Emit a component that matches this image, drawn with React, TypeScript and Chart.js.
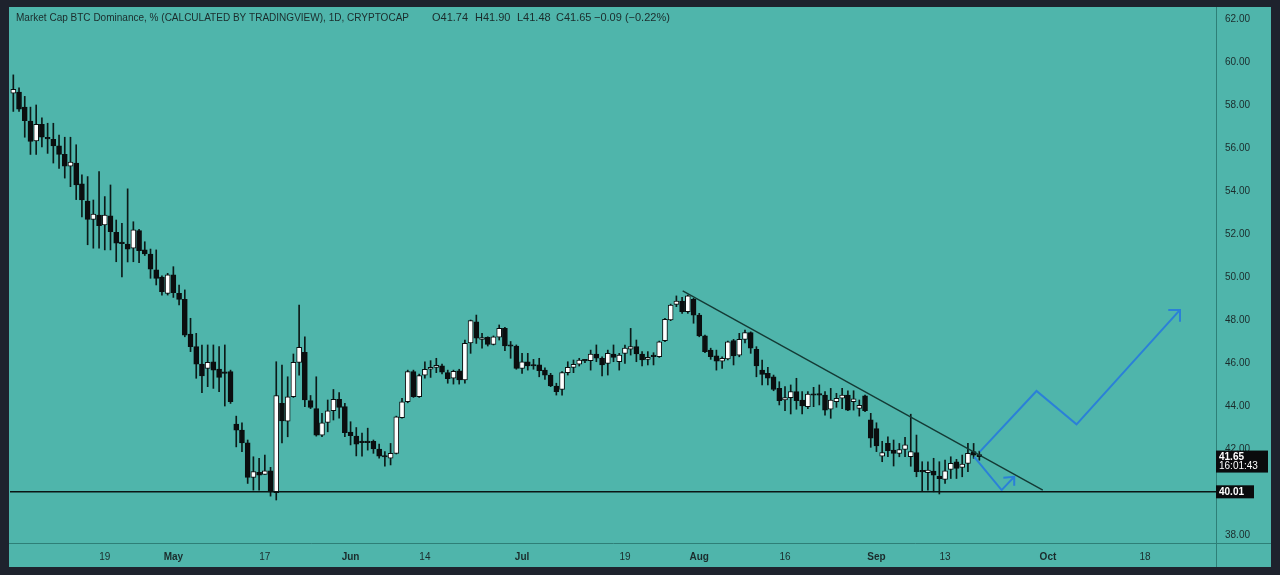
import React, { useEffect, useRef } from "react";
import { Chart, registerables } from "chart.js";

Chart.register(...registerables);

// Daily candles, CRYPTOCAP:BTC.D, 3 Apr – 19 Sep (index 0 = 3 Apr)
const opens = [
  58.55, 58.6, 57.9, 57.25, 56.33, 57.1, 56.5, 56.4, 56.1, 55.7,
  55.16, 55.3, 54.33, 53.53, 52.68, 52.88, 52.42, 52.84, 52.08, 51.6,
  51.53, 51.34, 52.16, 51.26, 51.07, 50.33, 50.0, 49.24, 50.1, 49.24,
  48.96, 47.35, 46.76, 45.95, 45.75, 46.06, 45.72, 45.57, 45.6, 43.16,
  42.88, 42.29, 40.68, 40.92, 40.82, 40.99, 39.97, 44.12, 43.3, 44.43,
  46.03, 46.5, 44.25, 43.88, 42.65, 43.24, 43.78, 44.31, 43.97, 42.79,
  42.6, 42.33, 42.33, 42.36, 42.0, 41.66, 41.57, 41.8, 43.46, 44.2,
  45.6, 44.43, 45.44, 45.71, 45.8, 45.87, 45.55, 45.29, 45.64, 45.21,
  46.94, 47.92, 47.1, 47.2, 46.87, 47.2, 47.61, 46.82, 46.79, 45.75,
  46.06, 45.88, 45.91, 45.67, 45.44, 44.93, 44.77, 45.55, 45.8, 45.95,
  46.12, 46.11, 46.42, 46.22, 45.98, 46.42, 46.06, 46.45, 46.64, 46.76,
  46.42, 46.17, 46.32, 46.29, 47.04, 48.0, 48.73, 48.88, 48.39, 48.96,
  48.23, 47.26, 46.6, 46.33, 46.09, 46.19, 47.04, 46.37, 47.1, 47.41,
  46.64, 45.67, 45.52, 45.36, 44.82, 44.28, 44.39, 44.67, 44.28, 43.97,
  44.52, 44.53, 44.51, 43.85, 44.2, 44.36, 44.51, 44.2, 43.89, 44.47,
  43.36, 42.95, 41.67, 42.26, 41.95, 41.8, 41.98, 41.64, 41.83, 40.96,
  40.9, 40.98, 40.74, 40.59, 41.05, 41.41, 41.15, 41.33, 41.88, 41.74,
];
const highs = [
  59.4, 58.8, 58.4, 57.9, 58.0, 57.4, 57.15, 57.15, 56.6, 56.5,
  56.5, 56.15, 54.75, 54.67, 53.58, 54.9, 53.74, 54.28, 52.65, 52.5,
  54.1, 52.57, 52.22, 51.64, 51.3, 51.26, 50.05, 50.17, 50.48, 49.63,
  49.4, 48.08, 47.38, 46.84, 46.84, 46.84, 46.76, 46.84, 45.67, 43.53,
  43.22, 42.42, 41.64, 41.57, 41.72, 41.15, 46.06, 45.9, 45.36, 46.42,
  48.7, 47.22, 44.49, 45.36, 43.66, 44.28, 44.77, 44.63, 44.12, 43.27,
  43.0, 42.74, 42.97, 42.42, 42.23, 41.88, 42.26, 43.53, 44.36, 45.67,
  45.67, 45.49, 46.06, 46.11, 46.22, 45.95, 45.67, 45.67, 45.71, 47.07,
  48.0, 48.23, 47.38, 47.22, 47.26, 47.77, 47.66, 47.0, 46.84, 46.45,
  46.45, 46.17, 46.22, 45.78, 45.52, 45.06, 45.6, 46.06, 46.14, 46.22,
  46.17, 46.6, 46.84, 46.29, 46.6, 46.84, 46.45, 46.84, 47.61, 47.07,
  46.53, 46.53, 46.48, 47.02, 48.08, 48.74, 49.12, 49.05, 49.16, 49.01,
  48.31, 47.3, 46.69, 46.6, 46.29, 47.02, 47.1, 47.38, 47.53, 47.45,
  46.76, 46.14, 45.8, 45.44, 45.13, 44.9, 44.98, 45.29, 44.67, 44.67,
  44.87, 44.98, 44.67, 44.82, 44.59, 44.82, 44.71, 44.71, 44.28, 44.51,
  43.66, 43.22, 42.36, 42.57, 42.42, 42.26, 42.54, 43.62, 42.65, 41.41,
  41.41, 41.57, 41.41, 41.49, 41.64, 41.52, 41.72, 42.26, 42.26, 41.9,
];
const lows = [
  57.7, 57.7, 56.5, 55.7, 55.7, 56.05, 55.75, 55.3, 55.05, 54.6,
  54.2, 53.6, 52.8, 51.5, 51.34, 51.34, 51.26, 51.26, 50.71, 50.0,
  50.7, 50.71, 50.67, 51.0, 49.94, 49.63, 49.16, 49.16, 49.05, 48.7,
  47.22, 46.53, 45.29, 44.62, 44.9, 44.82, 44.67, 44.0, 44.12, 42.1,
  41.88, 40.4, 40.09, 40.09, 40.82, 39.81, 39.63, 42.29, 42.57, 44.4,
  45.44, 43.97, 43.88, 42.6, 42.57, 42.8, 43.35, 43.43, 42.57, 42.19,
  41.68, 41.67, 41.95, 41.8, 41.57, 41.2, 41.26, 41.77, 43.43, 44.15,
  44.4, 44.4, 45.29, 45.33, 45.55, 45.49, 45.06, 45.02, 45.02, 45.06,
  46.45, 46.91, 46.69, 46.79, 46.84, 47.07, 46.57, 46.22, 45.71, 45.52,
  45.67, 45.71, 45.36, 45.24, 44.9, 44.51, 44.51, 45.44, 45.55, 45.86,
  46.02, 45.67, 46.06, 45.4, 45.44, 46.06, 45.67, 45.98, 46.37, 46.06,
  45.86, 45.91, 45.91, 46.26, 46.99, 47.97, 48.62, 48.31, 48.31, 47.85,
  47.22, 46.48, 46.17, 45.67, 45.75, 46.14, 45.91, 46.29, 46.94, 46.45,
  45.36, 44.98, 44.98, 44.71, 44.05, 43.78, 43.63, 43.85, 43.63, 43.88,
  43.97, 44.05, 43.58, 43.43, 43.94, 43.88, 43.78, 43.81, 43.53, 43.74,
  42.08, 41.88, 41.41, 41.64, 41.21, 41.64, 41.64, 41.2, 40.71, 40.06,
  40.09, 40.01, 39.91, 40.4, 40.63, 40.63, 40.71, 40.95, 41.57, 41.48,
];
const closes = [
  58.73, 57.8, 57.27, 56.3, 57.1, 56.5, 56.42, 56.1, 55.7, 55.15,
  55.35, 54.28, 53.58, 52.68, 52.93, 52.39, 52.88, 52.11, 51.57, 51.55,
  51.3, 52.19, 51.22, 51.07, 50.36, 49.94, 49.32, 50.1, 49.27, 48.96,
  47.3, 46.76, 45.95, 45.4, 46.03, 45.67, 45.33, 45.52, 44.2, 42.88,
  42.29, 40.68, 40.95, 40.79, 40.99, 40.01, 44.49, 43.31, 44.43, 46.03,
  46.73, 44.28, 43.94, 42.65, 43.22, 43.78, 44.31, 43.94, 42.76, 42.62,
  42.23, 42.3, 42.3, 42.0, 41.67, 41.63, 41.8, 43.5, 44.2, 45.6,
  44.43, 45.41, 45.71, 45.8, 45.89, 45.58, 45.27, 45.61, 45.21, 46.91,
  47.97, 47.15, 47.18, 46.87, 47.22, 47.61, 46.79, 46.78, 45.75, 46.06,
  45.87, 45.86, 45.64, 45.44, 44.93, 44.67, 45.55, 45.8, 45.94, 46.14,
  46.1, 46.42, 46.22, 45.91, 46.45, 46.26, 46.37, 46.69, 46.76, 46.42,
  46.14, 46.26, 46.3, 46.99, 48.03, 48.7, 48.88, 48.39, 49.12, 48.23,
  47.26, 46.53, 46.29, 46.09, 46.22, 46.99, 46.33, 47.1, 47.41, 46.69,
  45.86, 45.47, 45.29, 44.77, 44.25, 44.39, 44.67, 44.25, 44.0, 44.56,
  44.5, 44.51, 43.81, 44.28, 44.36, 44.51, 43.81, 44.33, 44.03, 43.78,
  42.5, 42.14, 41.83, 41.92, 41.8, 41.98, 42.19, 41.88, 40.95, 40.94,
  41.02, 40.79, 40.62, 40.99, 41.33, 41.1, 41.3, 41.8, 41.72, 41.65,
];

// Time axis (candle index -> label)
const timeTickIndex = [16, 28, 44, 59, 72, 89, 107, 120, 135, 151, 163, 181, 198];
const timeTickLabels = ["19", "May", "17", "Jun", "14", "Jul", "19", "Aug", "16", "Sep", "13", "Oct", "18"];
const monthNames = ["May", "Jun", "Jul", "Aug", "Sep", "Oct"];
const priceTicks = [38, 40, 42, 44, 46, 48, 50, 52, 54, 56, 58, 60, 62];

// Drawings
const supportLevel = 40.01;
const trendX = [117.1, 180.1];
const trendY = [49.36, 40.09];
const bullPathX = [169.1, 179.0, 186.0, 204.1];
const bullPathY = [41.88, 44.7, 43.15, 48.47];
const bullHeadX = [202.05, 204.1, 204.1];
const bullHeadY = [48.47, 48.47, 47.92];
const dipPathX = [168.1, 172.9, 175.1];
const dipPathY = [41.64, 40.09, 40.71];
const dipHeadX = [173.2, 175.1, 175.1];
const dipHeadY = [40.67, 40.71, 40.29];

const lastPrice = 41.65;
const lastTime = "16:01:43";
const headerTitle = "Market Cap BTC Dominance, % (CALCULATED BY TRADINGVIEW), 1D, CRYPTOCAP";
const headerValues = ["O41.74", "H41.90", "L41.48", "C41.65", "\u22120.09 (\u22120.22%)"];

const X_MIN = -0.58;
const X_MAX = 210.4;
const Y_MIN = 37.63;
const Y_MAX = 62.51;

const TEAL = "#4fb5ab";
const FRAME = "#1e222d";
const INK = "#1b2b2b";
const AXIS_LINE = "#2e7f77";
const CANDLE_DARK = "#0b0e0f";
const BLUE = "#2b80d8";
const FONT = "'Liberation Sans', Arial, sans-serif";

const pts = (xs: number[], ys: number[]) => xs.map((x, i) => ({ x, y: ys[i] }));

const overlayPlugin = {
  id: "overlay",
  afterDraw(chart: any) {
    const { ctx, chartArea, scales, width, height } = chart;
    const y = scales.y;
    ctx.save();
    // pane separators continuing into the axis corners
    ctx.strokeStyle = AXIS_LINE;
    ctx.lineWidth = 1;
    ctx.beginPath();
    ctx.moveTo(chartArea.right + 0.5, 0);
    ctx.lineTo(chartArea.right + 0.5, chartArea.top);
    ctx.moveTo(chartArea.right + 0.5, chartArea.bottom);
    ctx.lineTo(chartArea.right + 0.5, height);
    ctx.moveTo(chartArea.right, chartArea.bottom + 0.5);
    ctx.lineTo(width, chartArea.bottom + 0.5);
    ctx.moveTo(0, chartArea.bottom + 0.5);
    ctx.lineTo(chartArea.left, chartArea.bottom + 0.5);
    ctx.stroke();

    // header
    ctx.fillStyle = INK;
    ctx.font = `11px ${FONT}`;
    ctx.textBaseline = "middle";
    ctx.textAlign = "left";
    const L = chartArea.left;
    ctx.fillText(headerTitle, L + 6, 11, 393);
    const valueOffsets = [422, 465, 507, 546, 584];
    headerValues.forEach((t, i) => ctx.fillText(t, L + valueOffsets[i], 11));

    const boxLeft = chartArea.right;
    // last price label
    const yp = y.getPixelForValue(lastPrice);
    ctx.fillStyle = "#0a0b0d";
    ctx.fillRect(boxLeft, yp - 6, 52, 22);
    ctx.fillStyle = "#ffffff";
    ctx.font = `bold 10px ${FONT}`;
    ctx.fillText(lastPrice.toFixed(2), boxLeft + 3, yp + 0.5);
    ctx.font = `10px ${FONT}`;
    ctx.fillText(lastTime, boxLeft + 3, yp + 10);
    // support label
    const ys = y.getPixelForValue(supportLevel);
    ctx.fillStyle = "#0a0b0d";
    ctx.fillRect(boxLeft, ys - 6.5, 38, 13);
    ctx.fillStyle = "#ffffff";
    ctx.font = `bold 10px ${FONT}`;
    ctx.fillText(supportLevel.toFixed(2), boxLeft + 3, ys + 0.5);
    ctx.restore();
  },
};

export default function App() {
  const canvasRef = useRef<HTMLCanvasElement | null>(null);

  useEffect(() => {
    if (!canvasRef.current) return;
    const idx = opens.map((_, i) => i);
    const isUp = (i: number) => closes[i] >= opens[i];
    const noPad = (scale: any) => {
      scale.paddingTop = 0;
      scale.paddingBottom = 0;
      scale.paddingLeft = 0;
      scale.paddingRight = 0;
    };
    const lineDs = (data: any[], color: string, w: number) =>
      ({ type: "line", data, borderColor: color, borderWidth: w, pointRadius: 0, order: 0 } as any);

    const chart = new Chart(canvasRef.current, {
      type: "bar",
      data: {
        datasets: [
          lineDs(pts([X_MIN, X_MAX], [supportLevel, supportLevel]), "#0a1514", 1.6),
          lineDs(pts(trendX, trendY), "#143a35", 1.4),
          lineDs(pts(bullPathX, bullPathY), BLUE, 2),
          lineDs(pts(bullHeadX, bullHeadY), BLUE, 2),
          lineDs(pts(dipPathX, dipPathY), BLUE, 2),
          lineDs(pts(dipHeadX, dipHeadY), BLUE, 2),
          {
            type: "bar",
            data: idx.map((i) => ({ x: i, y: [opens[i], closes[i]] })),
            backgroundColor: idx.map((i) => (isUp(i) ? "#ffffff" : CANDLE_DARK)),
            borderColor: CANDLE_DARK,
            borderWidth: 1,
            borderSkipped: false,
            barThickness: 5,
            minBarLength: 1.5,
            grouped: false,
            order: 1,
          } as any,
          {
            type: "bar",
            data: idx.map((i) => ({ x: i, y: [lows[i], highs[i]] })),
            backgroundColor: "#0c1a18",
            borderWidth: 0,
            barThickness: 1,
            grouped: false,
            order: 2,
          } as any,
        ],
      },
      options: {
        animation: false,
        responsive: true,
        maintainAspectRatio: false,
        layout: { padding: { left: 1, top: 1, right: 0, bottom: 0 } },
        plugins: {
          legend: { display: false },
          tooltip: { enabled: false },
          title: { display: false },
        },
        scales: {
          x: {
            type: "linear",
            min: X_MIN,
            max: X_MAX,
            offset: false,
            grid: { display: false, drawTicks: false },
            border: { display: true, color: AXIS_LINE, width: 1 },
            afterBuildTicks: (scale: any) => {
              scale.ticks = timeTickIndex.map((v) => ({ value: v }));
            },
            afterFit: (scale: any) => {
              scale.height = 24;
              noPad(scale);
            },
            ticks: {
              autoSkip: false,
              maxRotation: 0,
              padding: 8,
              color: INK,
              callback: (v: any) => {
                const k = timeTickIndex.indexOf(Number(v));
                return k >= 0 ? timeTickLabels[k] : "";
              },
              font: (ctx: any) => {
                const k = timeTickIndex.indexOf(ctx.tick ? ctx.tick.value : -1);
                const lab = k >= 0 ? timeTickLabels[k] : "";
                return {
                  family: FONT,
                  size: 10,
                  weight: monthNames.includes(lab) ? "bold" : "normal",
                };
              },
            },
          },
          y: {
            type: "linear",
            position: "right",
            min: Y_MIN,
            max: Y_MAX,
            grid: { display: false, drawTicks: false },
            border: { display: true, color: AXIS_LINE, width: 1 },
            afterBuildTicks: (scale: any) => {
              scale.ticks = priceTicks.map((v) => ({ value: v }));
            },
            afterFit: (scale: any) => {
              scale.width = 55;
              noPad(scale);
            },
            ticks: {
              padding: 9,
              color: INK,
              font: { family: FONT, size: 10 },
              callback: (v: any) => Number(v).toFixed(2),
            },
          },
        },
      } as any,
      plugins: [overlayPlugin],
    });
    return () => chart.destroy();
  }, []);

  return (
    <div
      style={{
        position: "fixed",
        left: 0,
        top: 0,
        width: 1280,
        height: 575,
        background: FRAME,
      }}
    >
      <div
        style={{
          position: "absolute",
          left: 9,
          top: 7,
          width: 1262,
          height: 560,
          background: TEAL,
        }}
      >
        <canvas ref={canvasRef} />
      </div>
    </div>
  );
}
